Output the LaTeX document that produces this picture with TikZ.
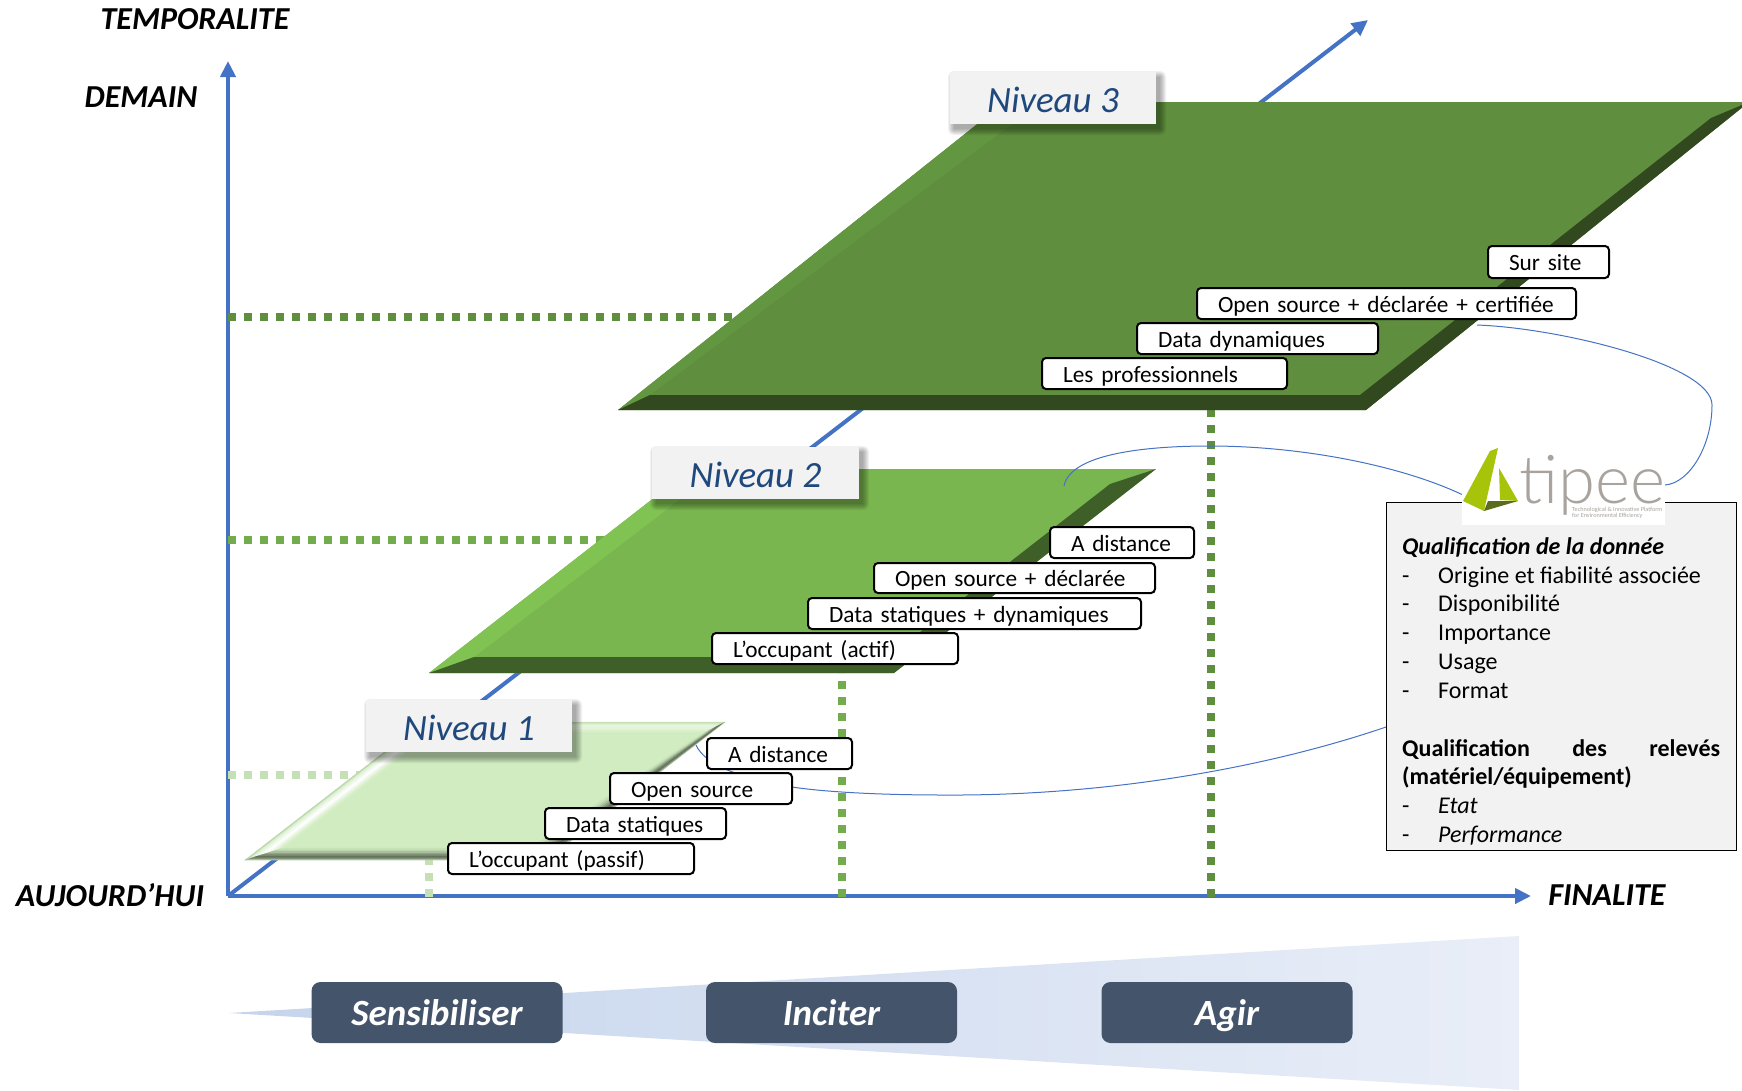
\documentclass[tikz,border=0pt]{standalone}
\usepackage{fontspec}
\setmainfont{Carlito}
\newfontfamily\logofont{Lato Light}
\usetikzlibrary{arrows.meta,calc}
\definecolor{axisblue}{HTML}{4472C4}
\definecolor{lvlthree}{HTML}{5F8E3E}
\definecolor{lvlthreedark}{HTML}{32491F}
\definecolor{lvlthreelight}{HTML}{639640}
\definecolor{lvltwo}{HTML}{7AB650}
\definecolor{lvltwodark}{HTML}{3F5F29}
\definecolor{lvltwolight}{HTML}{80C353}
\definecolor{lvlone}{HTML}{D0ECC0}
\definecolor{lvlonedot}{HTML}{C5E0B4}
\definecolor{lvltwodot}{HTML}{72AC4C}
\definecolor{pill}{HTML}{44546A}
\definecolor{titleblue}{HTML}{1F497D}
\definecolor{panel}{HTML}{F2F2F2}
\definecolor{logogrey}{HTML}{A8A39E}
\definecolor{logogreen}{HTML}{A8C40A}
\definecolor{logodark}{HTML}{5C6C1E}
\definecolor{wedgea}{HTML}{C5D4EC}
\definecolor{wedgeb}{HTML}{E9EEF8}
\tikzset{
 axisline/.style={draw=axisblue,line width=4pt,-{Triangle[length=16pt,width=15pt]}},
 dots/.style={line width=7.5pt,dash pattern=on 8pt off 8pt},
 thin curve/.style={draw=axisblue,line width=1pt},
 lab/.style={draw=black,fill=white,line width=2pt,rounded corners=4pt,font=\fontsize{23.3}{25}\selectfont,align=left,inner ysep=0pt,inner xsep=0pt,text height=20pt,text depth=3pt},
 niveau/.style={fill=panel,inner sep=0pt,font=\fontsize{37}{40}\selectfont\itshape,text=titleblue,minimum height=52pt,text height=29pt,text depth=0pt},
 pillbox/.style={fill=pill,rounded corners=9pt,inner sep=0pt,minimum height=61pt,minimum width=251pt,text=white,font=\fontsize{37}{40}\selectfont\bfseries\itshape,text height=25pt,text depth=0pt},
 axlabel/.style={font=\fontsize{32}{36}\selectfont\bfseries\itshape,inner sep=0pt},
 paneltext/.style={font=\fontsize{24}{26}\selectfont,inner sep=0pt,anchor=base west},
}
% name, x1, y1, x2, y2, text
\newcommand{\lablbl}[6]{%
 \pgfmathsetmacro{\lw}{#4-#2}\pgfmathsetmacro{\lh}{#5-#3}%
 \pgfmathsetmacro{\lx}{(#2+#4)/2}\pgfmathsetmacro{\ly}{(#3+#5)/2}%
 \pgfmathsetmacro{\ltw}{#4-#2-42}%
 \node[lab,minimum width=\lw pt,minimum height=\lh pt,text width=\ltw pt] (#1) at (\lx,\ly) {#6};}
% bevel band of the palest plate: outer edge A-B, inner edge C-D, list of t/colour
\newcommand{\bevelband}[5]{%
 \foreach \ta/\tb/\cc in {#5}{%
  \fill[\cc,draw=\cc,line width=.3pt] ($(#1)!\ta!(#3)$) -- ($(#2)!\ta!(#4)$) -- ($(#2)!\tb!(#4)$) -- ($(#1)!\tb!(#3)$) -- cycle;}}
% soft shadow under a title box
\newcommand{\softshadow}[4]{%
 \foreach \d in {6,5,4,3,2,1,0}{%
  \fill[black,opacity=.055,rounded corners=\d pt] (#1+4-\d,#2+5-\d) rectangle (#3+4+\d,#4+5+\d);}}
\begin{document}
\begin{tikzpicture}[x=1pt,y=-1pt]
\useasboundingbox (0,0) rectangle (1742,1090);
\coordinate (org) at (228,896);
\coordinate (ytop) at (228,61);
\coordinate (xend) at (1531,896);
\coordinate (zend) at (1368,20);
% wedge
\shade[left color=wedgea,right color=wedgeb] (229,1013) -- (1519,936) -- (1519,1090) -- cycle;
% axes
\draw[axisline] (org) -- (zend);
\draw[axisline] (org) -- (ytop);
\draw[axisline] (org) -- (xend);
% dotted guides
\coordinate (d3a) at (228,317); \coordinate (d3b) at (745,317);
\coordinate (d2a) at (228,540); \coordinate (d2b) at (605,540);
\coordinate (d1a) at (228,775); \coordinate (d1b) at (370,775);
\coordinate (v1a) at (429,897); \coordinate (v1b) at (429,858);
\coordinate (v2a) at (842,897); \coordinate (v2b) at (842,673);
\coordinate (v3a) at (1211,897); \coordinate (v3b) at (1211,410);
\draw[dots,draw=lvlthree] (d3a) -- (d3b);
\draw[dots,draw=lvltwodot] (d2a) -- (d2b);
\draw[dots,draw=lvlonedot] (d1a) -- (d1b);
\draw[dots,draw=lvlonedot] (v1a) -- (v1b);
\draw[dots,draw=lvltwodot] (v2a) -- (v2b);
\draw[dots,draw=lvlthree] (v3a) -- (v3b);
% level 3 plate
\begin{scope}
\clip (0,0) rectangle (1742,1090);
\fill[lvlthree] (618,410) -- (1005,102) -- (1749,102) -- (1366,410) -- cycle;
\fill[lvlthreelight] (618,410) -- (1005,102) -- (1020,118) -- (650,395) -- cycle;
\fill[lvlthreedark] (618,410) -- (650,395) -- (1360,395) -- (1711,118) -- (1749,102) -- (1366,410) -- cycle;
\end{scope}
% level 2 plate
\fill[lvltwo] (429,673) -- (691,469) -- (1156,469) -- (894,673) -- cycle;
\fill[lvltwolight] (429,673) -- (691,469) -- (700,484) -- (474,657) -- cycle;
\fill[lvltwodark] (429,673) -- (474,657) -- (888,657) -- (1110,484) -- (1156,469) -- (894,673) -- cycle;
% level 1 plate
\coordinate (pA) at (245,860); \coordinate (pB) at (423,722);
\coordinate (pC) at (725,722); \coordinate (pD) at (546,860);
\coordinate (qA) at (283,848); \coordinate (qB) at (431,734);
\coordinate (qC) at (702,734); \coordinate (qD) at (530,848);
\fill[lvlone] (pA) -- (pB) -- (pC) -- (pD) -- cycle;
\bevelband{pB}{pC}{qB}{qC}{0/.15/lvlone!95!black, .15/.3/lvlone!70!white, .3/.45/lvlone!50!white, .45/.6/lvlone!55!white, .6/.75/lvlone!70!white, .75/.9/lvlone!85!white, .9/1/lvlone}
\bevelband{pA}{pB}{qA}{qB}{0/.12/lvlone!92!black, .12/.25/lvlone!70!white, .25/.38/lvlone!40!white, .38/.5/lvlone!15!white, .5/.62/white, .62/.75/lvlone!30!white, .75/.88/lvlone!60!white, .88/1/lvlone!85!white}
\bevelband{pC}{pD}{qC}{qD}{0/.12/lvlone!80!black, .12/.25/lvlone!55!black, .25/.38/lvlone!48!black, .38/.5/lvlone!58!black, .5/.62/lvlone!70!black, .62/.75/lvlone!80!black, .75/.88/lvlone!90!black, .88/1/lvlone!96!black}
\bevelband{pA}{pD}{qA}{qD}{0/.12/lvlone!80!black, .12/.25/lvlone!55!black, .25/.38/lvlone!48!black, .38/.5/lvlone!58!black, .5/.62/lvlone!70!black, .62/.75/lvlone!80!black, .75/.88/lvlone!90!black, .88/1/lvlone!96!black}
% curves under the boxes
\coordinate (c1a) at (696,745); \coordinate (c1b) at (792,787); \coordinate (c1c) at (944,795); \coordinate (c1d) at (1386,727);
\draw[thin curve] (c1a) .. controls (705,765) and (740,778) .. (c1b) .. controls (825,792) and (880,795) .. (c1c) .. controls (1100,796) and (1260,770) .. (c1d);
% labels level 1
\lablbl{a1}{707}{738}{852}{769}{A distance}
\lablbl{b1}{610}{773}{792}{804}{Open source}
\lablbl{c1}{545}{808}{726}{839}{Data statiques}
\lablbl{e1}{448}{843}{694}{874}{L’occupant (passif)}
% labels level 2
\lablbl{a2}{1050}{527}{1194}{558}{A distance}
\lablbl{b2}{874}{563}{1155}{593}{Open source + déclarée}
\lablbl{c2}{808}{598}{1141}{629}{Data statiques + dynamiques}
\lablbl{e2}{712}{633}{958}{664}{L’occupant (actif)}
% labels level 3
\lablbl{a3}{1488}{246}{1609}{278}{Sur site}
\lablbl{b3}{1197}{288}{1576}{319}{Open source + déclarée + certifiée}
\lablbl{c3}{1137}{323}{1378}{354}{Data dynamiques}
\lablbl{e3}{1042}{358}{1287}{389}{Les professionnels}
% niveau titles
\softshadow{366}{700}{572}{752}
\softshadow{652}{447}{859}{499}
\softshadow{950}{72}{1156}{124}
\node[niveau,minimum width=206pt] (n1) at (469,726) {Niveau 1};
\node[niveau,minimum width=207pt] (n2) at (755.5,473) {Niveau 2};
\node[niveau,minimum width=206pt] (n3) at (1053,98) {Niveau 3};
% axis labels
\node[axlabel] (t1) at (195,19) {TEMPORALITE};
\node[axlabel] (t2) at (141,97) {DEMAIN};
\node[axlabel] (t3) at (110,895) {AUJOURD’HUI};
\node[axlabel] (t4) at (1607,895) {FINALITE};
% side panel
\node[draw=black,fill=panel,line width=1pt,minimum width=350pt,minimum height=348pt,inner sep=0pt] (panelbox) at (1561,676) {};
\coordinate (logol) at (1463,495); \coordinate (logor) at (1665,485);
\coordinate (c2a) at (1064,486); \coordinate (c2b) at (1210,446);
\coordinate (c3a) at (1477,325); \coordinate (c3b) at (1712,405);
\draw[thin curve] (c2a) .. controls (1070,455) and (1140,446) .. (c2b) .. controls (1300,446) and (1400,465) .. (logol);
\draw[thin curve] (c3a) .. controls (1560,328) and (1712,365) .. (c3b) .. controls (1712,445) and (1690,483) .. (logor);
% logo
\fill[white] (1462,450) rectangle (1665,525);
\fill[logogreen] (1463,501) -- (1490,451) -- (1498,448) -- (1484,511) -- cycle;
\fill[logogreen] (1499,468) -- (1518,501) -- (1500,500) -- cycle;
\fill[logodark] (1484,511) -- (1488,501) -- (1518,501) -- cycle;
\node[inner sep=0pt,anchor=base west,text=logogrey,font=\logofont\fontsize{67}{67}\selectfont] (tipee) at (1519,503) {tipee};
\node[inner sep=0pt,anchor=north west,text=logogrey,align=left,font=\fontsize{6.2}{6.2}\selectfont] (tagline) at (1572,507) {Technological \& Innovative Platform\\for Environmental Efficiency};
% panel text
\node[paneltext,font=\fontsize{24}{26}\selectfont\bfseries\itshape] (q1) at (1402,554) {Qualification de la donnée};
\node[paneltext] (i1d) at (1402,583) {-}; \node[paneltext] (i1) at (1438,583) {Origine et fiabilité associée};
\node[paneltext] (i2d) at (1402,611) {-}; \node[paneltext] (i2) at (1438,611) {Disponibilité};
\node[paneltext] (i3d) at (1402,640) {-}; \node[paneltext] (i3) at (1438,640) {Importance};
\node[paneltext] (i4d) at (1402,669) {-}; \node[paneltext] (i4) at (1438,669) {Usage};
\node[paneltext] (i5d) at (1402,698) {-}; \node[paneltext] (i5) at (1438,698) {Format};
\node[paneltext,font=\fontsize{24}{26}\selectfont\bfseries,text width=318pt,align=left] (q2) at (1402,756) {Qualification\hfill des\hfill relevés};
\node[paneltext,font=\fontsize{24}{26}\selectfont\bfseries] (q2b) at (1402,784) {(matériel/équipement)};
\node[paneltext] (j1d) at (1402,813) {-}; \node[paneltext,font=\fontsize{24}{26}\selectfont\itshape] (j1) at (1438,813) {Etat};
\node[paneltext] (j2d) at (1402,842) {-}; \node[paneltext,font=\fontsize{24}{26}\selectfont\itshape] (j2) at (1438,842) {Performance};
% pills
\node[pillbox] (p1) at (437,1012.5) {Sensibiliser};
\node[pillbox] (p2) at (831.5,1012.5) {Inciter};
\node[pillbox] (p3) at (1227,1012.5) {Agir};
\end{tikzpicture}
\end{document}
